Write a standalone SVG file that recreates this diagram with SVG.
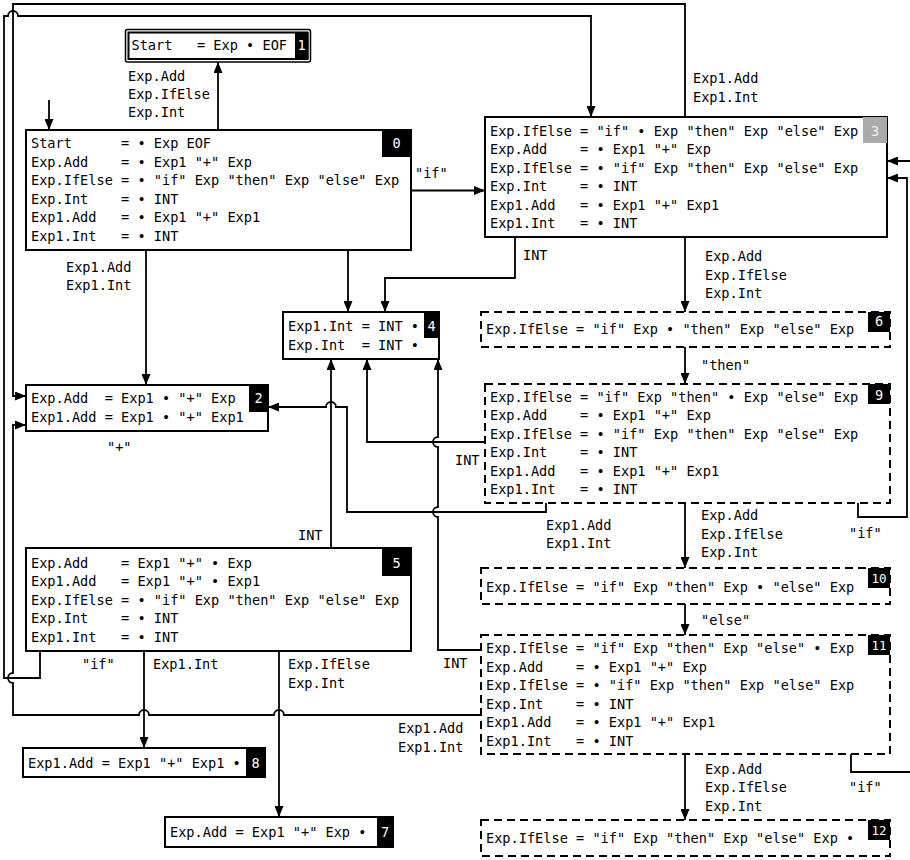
<svg xmlns="http://www.w3.org/2000/svg" width="910" height="860" viewBox="0 0 910 860">
<style>
text{font-family:"DejaVu Sans Mono","Liberation Mono",monospace;font-size:13.6px;fill:#000;white-space:pre}
.box{fill:#fff;stroke:#000;stroke-width:2}
.dash{fill:#fff;stroke:#000;stroke-width:2;stroke-dasharray:8 5}
.lab{fill:#000}
.labt{fill:#fff;text-anchor:middle}
.e{fill:none;stroke:#000;stroke-width:1.8}
.ea{fill:none;stroke:#000;stroke-width:1.8;marker-end:url(#arr)}
</style>
<defs>
<marker id="arr" markerUnits="userSpaceOnUse" markerWidth="12" markerHeight="9" refX="11" refY="4.5" orient="auto">
<path d="M0,0 L11,4.5 L0,9 z" fill="#000"/>
</marker>
</defs>
<rect width="910" height="860" fill="#fff"/>

<g id="connectors">
<path class="ea" d="M49,100 V130"/>
<path class="ea" d="M218,130 V62"/>
<path class="ea" d="M411,190.5 H485"/>
<path class="ea" d="M146,250 V385"/>
<path class="ea" d="M348,250 V312"/>
<path class="ea" d="M685,117 V4 H13 V396 H26"/>
<path class="ea" d="M481,715 H284 A5,5 0 0 0 274,715 H149 A5,5 0 0 0 139,715 H13 V683 A5,5 0 0 1 13,673 V425 H26"/>
<path class="ea" d="M40,651 V678 H4 V16 H8 A5,5 0 0 1 18,16 H591 V117"/>
<path class="ea" d="M515,237 V278 H385 V312"/>
<path class="ea" d="M685,237 V312"/>
<path class="ea" d="M685,347 V384"/>
<path class="ea" d="M685,503 V568"/>
<path class="ea" d="M685,604 V635"/>
<path class="ea" d="M685,754 V820"/>
<path class="ea" d="M485,442 H367 V359"/>
<path class="ea" d="M481,650 H438 V517 A5,5 0 0 1 438,507 V447 A5,5 0 0 1 438,437 V359"/>
<path class="ea" d="M546,503 V512 H347 V407 H336 A5,5 0 0 0 326,407 H268"/>
<path class="ea" d="M331,548 V359"/>
<path class="ea" d="M144,651 V748"/>
<path class="ea" d="M279,651 V817"/>
<path class="ea" d="M858,503 V517 H907 V178 H887"/>
<path class="ea" d="M851,754 V772 H925 V161 H887"/>

<text x="128" y="81">Exp.Add</text>
<text x="128" y="99">Exp.IfElse</text>
<text x="128" y="117">Exp.Int</text>
<text x="415" y="178">"if"</text>
<text x="693" y="83">Exp1.Add</text>
<text x="693" y="102">Exp1.Int</text>
<text x="523" y="260">INT</text>
<text x="705" y="261">Exp.Add</text>
<text x="705" y="280">Exp.IfElse</text>
<text x="705" y="298">Exp.Int</text>
<text x="66" y="272">Exp1.Add</text>
<text x="66" y="290">Exp1.Int</text>
<text x="701" y="370">"then"</text>
<text x="455" y="465">INT</text>
<text x="840" y="476">INT</text>
<text x="107" y="452">"+"</text>
<text x="298" y="540">INT</text>
<text x="546" y="530">Exp1.Add</text>
<text x="546" y="548">Exp1.Int</text>
<text x="701" y="520">Exp.Add</text>
<text x="701" y="539">Exp.IfElse</text>
<text x="701" y="557">Exp.Int</text>
<text x="849" y="538">"if"</text>
<text x="701" y="625">"else"</text>
<text x="443" y="668">INT</text>
<text x="82" y="669">"if"</text>
<text x="153" y="669">Exp1.Int</text>
<text x="288" y="669">Exp.IfElse</text>
<text x="288" y="688">Exp.Int</text>
<text x="398" y="733">Exp1.Add</text>
<text x="398" y="752">Exp1.Int</text>
<text x="705" y="774">Exp.Add</text>
<text x="705" y="792">Exp.IfElse</text>
<text x="705" y="811">Exp.Int</text>
<text x="849" y="792">"if"</text>
</g>

<g id="node1">
<rect x="125.5" y="29.5" width="185" height="32.5" rx="2" fill="#fff" stroke="#000" stroke-width="1.5"/>
<rect x="128.5" y="32.5" width="179" height="26.5" fill="#fff" stroke="#000" stroke-width="2"/>
<rect class="lab" x="295" y="32.5" width="13.5" height="26.5"/>
<text class="labt" x="301.7" y="50">1</text>
<text x="131.5" y="50">Start   = Exp • EOF</text>
</g>

<g id="node0">
<rect class="box" x="26" y="130" width="385" height="120"/>
<rect class="lab" x="382" y="130" width="29" height="27"/>
<text class="labt" x="396.5" y="148">0</text>
<text x="31" y="148">Start      = • Exp EOF</text>
<text x="31" y="166.5">Exp.Add    = • Exp1 "+" Exp</text>
<text x="31" y="185">Exp.IfElse = • "if" Exp "then" Exp "else" Exp</text>
<text x="31" y="203.5">Exp.Int    = • INT</text>
<text x="31" y="222">Exp1.Add   = • Exp1 "+" Exp1</text>
<text x="31" y="240.5">Exp1.Int   = • INT</text>
</g>

<g id="node3">
<rect class="box" x="485" y="117" width="402" height="120"/>
<rect x="863" y="117" width="24" height="26" fill="#aaa"/>
<text x="875" y="135.5" style="fill:#eee;text-anchor:middle">3</text>
<text x="490" y="135.5">Exp.IfElse = "if" • Exp "then" Exp "else" Exp</text>
<text x="490" y="154">Exp.Add    = • Exp1 "+" Exp</text>
<text x="490" y="172.5">Exp.IfElse = • "if" Exp "then" Exp "else" Exp</text>
<text x="490" y="191">Exp.Int    = • INT</text>
<text x="490" y="209.5">Exp1.Add   = • Exp1 "+" Exp1</text>
<text x="490" y="228">Exp1.Int   = • INT</text>
</g>

<g id="node4">
<rect class="box" x="283" y="312" width="156" height="47"/>
<rect class="lab" x="424" y="312" width="15" height="26"/>
<text class="labt" x="431.5" y="331">4</text>
<text x="288" y="331">Exp1.Int = INT •</text>
<text x="288" y="349.5">Exp.Int  = INT •</text>
</g>

<g id="node2">
<rect class="box" x="26" y="385" width="242" height="46"/>
<rect class="lab" x="249" y="385" width="19" height="27"/>
<text class="labt" x="258.5" y="403">2</text>
<text x="31" y="403">Exp.Add  = Exp1 • "+" Exp</text>
<text x="31" y="422">Exp1.Add = Exp1 • "+" Exp1</text>
</g>

<g id="node5">
<rect class="box" x="26" y="548" width="385" height="103"/>
<rect class="lab" x="382" y="548" width="29" height="28"/>
<text class="labt" x="396.5" y="567.5">5</text>
<text x="31" y="567.5">Exp.Add    = Exp1 "+" • Exp</text>
<text x="31" y="586">Exp1.Add   = Exp1 "+" • Exp1</text>
<text x="31" y="604.5">Exp.IfElse = • "if" Exp "then" Exp "else" Exp</text>
<text x="31" y="623">Exp.Int    = • INT</text>
<text x="31" y="641.5">Exp1.Int   = • INT</text>
</g>

<g id="node8">
<rect class="box" x="23" y="748" width="242" height="29"/>
<rect class="lab" x="246" y="748" width="19" height="29"/>
<text class="labt" x="255.5" y="768">8</text>
<text x="28" y="768">Exp1.Add = Exp1 "+" Exp1 •</text>
</g>

<g id="node7">
<rect class="box" x="165" y="817" width="228" height="30"/>
<rect class="lab" x="377" y="817" width="16" height="30"/>
<text class="labt" x="385" y="837">7</text>
<text x="170" y="837">Exp.Add = Exp1 "+" Exp •</text>
</g>

<g id="node6">
<rect class="dash" x="481" y="312" width="409" height="35"/>
<rect class="lab" x="868" y="312" width="22" height="20"/>
<text class="labt" x="879" y="326">6</text>
<text x="486" y="334">Exp.IfElse = "if" Exp • "then" Exp "else" Exp</text>
</g>

<g id="node9">
<rect class="dash" x="485" y="384" width="405" height="119"/>
<rect class="lab" x="868" y="384" width="22" height="20"/>
<text class="labt" x="879" y="400">9</text>
<text x="490" y="401.5">Exp.IfElse = "if" Exp "then" • Exp "else" Exp</text>
<text x="490" y="420">Exp.Add    = • Exp1 "+" Exp</text>
<text x="490" y="438.5">Exp.IfElse = • "if" Exp "then" Exp "else" Exp</text>
<text x="490" y="457">Exp.Int    = • INT</text>
<text x="490" y="475.5">Exp1.Add   = • Exp1 "+" Exp1</text>
<text x="490" y="494">Exp1.Int   = • INT</text>
</g>

<g id="node10">
<rect class="dash" x="481" y="568" width="409" height="36"/>
<rect class="lab" x="868" y="568" width="22" height="20"/>
<text class="labt" x="879" y="583" style="font-size:12.5px">10</text>
<text x="486" y="591.5">Exp.IfElse = "if" Exp "then" Exp • "else" Exp</text>
</g>

<g id="node11">
<rect class="dash" x="481" y="635" width="409" height="119"/>
<rect class="lab" x="868" y="635" width="22" height="20"/>
<text class="labt" x="879" y="650" style="font-size:12.5px">11</text>
<text x="486" y="653">Exp.IfElse = "if" Exp "then" Exp "else" • Exp</text>
<text x="486" y="671.5">Exp.Add    = • Exp1 "+" Exp</text>
<text x="486" y="690">Exp.IfElse = • "if" Exp "then" Exp "else" Exp</text>
<text x="486" y="708.5">Exp.Int    = • INT</text>
<text x="486" y="727">Exp1.Add   = • Exp1 "+" Exp1</text>
<text x="486" y="745.5">Exp1.Int   = • INT</text>
</g>

<g id="node12">
<rect class="dash" x="481" y="820" width="409" height="36"/>
<rect class="lab" x="868" y="820" width="22" height="20"/>
<text class="labt" x="879" y="835" style="font-size:12.5px">12</text>
<text x="486" y="843">Exp.IfElse = "if" Exp "then" Exp "else" Exp •</text>
</g>
</svg>
